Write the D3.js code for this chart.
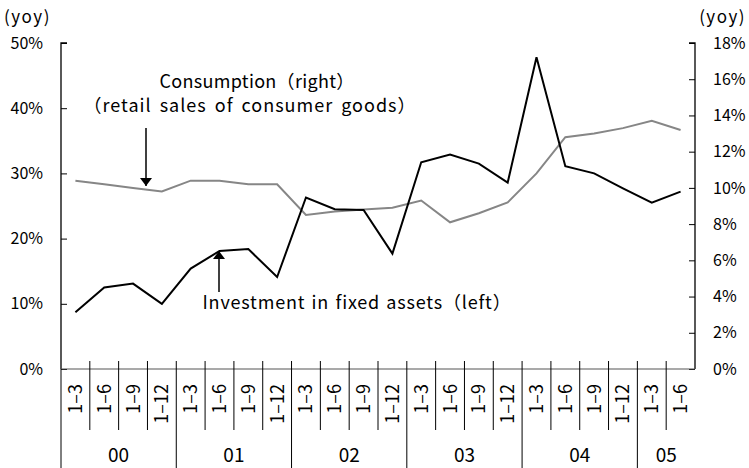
<!DOCTYPE html>
<html>
<head>
<meta charset="utf-8">
<script src="https://cdn.jsdelivr.net/npm/d3@7"></script>
<style>
  body { margin: 0; background: #fff; }
  svg text { font-family: "Noto Sans CJK JP", "Liberation Sans", sans-serif; fill: #000; }
</style>
</head>
<body>
<svg id="chart" width="749" height="468"></svg>
<script>
// quarters (cumulative periods) and years
var periods = ["1–3","1–6","1–9","1–12","1–3","1–6","1–9","1–12","1–3","1–6","1–9","1–12",
               "1–3","1–6","1–9","1–12","1–3","1–6","1–9","1–12","1–3","1–6"];
var years = ["00","01","02","03","04","05"];
var yearSpans = [4, 4, 4, 4, 4, 2];

// investment in fixed assets, % yoy (left axis)
var investment = [8.7, 12.5, 13.1, 10.0, 15.4, 18.1, 18.4, 14.1, 26.3, 24.5, 24.4, 17.7,
                  31.7, 32.9, 31.5, 28.6, 47.8, 31.1, 30.0, 27.7, 25.5, 27.2];
// retail sales of consumer goods, % yoy (right axis)
var consumption = [10.4, 10.2, 10.0, 9.8, 10.4, 10.4, 10.2, 10.2, 8.5, 8.7, 8.8, 8.9,
                   9.3, 8.1, 8.6, 9.2, 10.8, 12.8, 13.0, 13.3, 13.7, 13.2];

var leftTicks = [0, 10, 20, 30, 40, 50];
var rightTicks = [0, 2, 4, 6, 8, 10, 12, 14, 16, 18];

var margin = { top: 43, right: 54, bottom: 99, left: 61 };
var width = 749 - margin.left - margin.right;
var height = 468 - margin.top - margin.bottom;

var svg = d3.select("#chart");
var g = svg.append("g").attr("transform", `translate(${margin.left}, ${margin.top})`);

var idx = d3.range(periods.length);
var xScale = d3.scaleBand().domain(idx).range([0, width]);
var yLeft = d3.scaleLinear().domain([0, 50]).range([height, 0]);
var yRight = d3.scaleLinear().domain([0, 18]).range([height, 0]);
var bw = xScale.bandwidth();

// left axis
var leftAxis = g.append("g")
  .call(d3.axisRight(yLeft).tickValues(leftTicks).tickSize(6).tickFormat(d => d + "%"));
leftAxis.select(".domain").attr("stroke", "#000").attr("stroke-width", 1.3).attr("d", `M6,0H0V${height}`);
leftAxis.selectAll("text").attr("x", -18).attr("text-anchor", "end").style("font-size", "16px");

// right axis
var rightAxis = g.append("g")
  .attr("transform", `translate(${width}, 0)`)
  .call(d3.axisLeft(yRight).tickValues(rightTicks).tickSize(6).tickFormat(d => d + "%"));
rightAxis.select(".domain").attr("stroke", "#000").attr("stroke-width", 1.3).attr("d", `M-6,0H0V${height}`);
rightAxis.selectAll("text").attr("x", 18).attr("text-anchor", "start").style("font-size", "16px");

// unit labels
svg.append("text").attr("x", 4).attr("y", 23).style("font-size", "17px")
  .style("letter-spacing", "1.5px").text("(yoy)");
svg.append("text").attr("x", 746).attr("y", 23).attr("text-anchor", "end").style("font-size", "17px")
  .style("letter-spacing", "1.5px").text("(yoy)");

// category axis line
g.append("line").attr("x1", 0).attr("x2", width).attr("y1", height).attr("y2", height)
  .attr("stroke", "#555").attr("stroke-width", 1.2);

// period separators and labels
g.selectAll(".sep").data(idx.slice(1)).enter().append("line")
  .attr("x1", d => xScale(d)).attr("x2", d => xScale(d))
  .attr("y1", height - 8).attr("y2", height + 61)
  .attr("stroke", "#000").attr("stroke-width", 1);

g.selectAll(".plab").data(periods).enter().append("text")
  .attr("transform", (d, i) => `translate(${xScale(i) + bw / 2 + 6.5}, ${height + 15}) rotate(-90)`)
  .attr("text-anchor", "end")
  .style("font-size", "18px")
  .text(d => d);

// year separators and labels
var starts = [0];
yearSpans.forEach((s, i) => starts.push(starts[i] + s));
g.selectAll(".ysep").data(starts.slice(0, years.length)).enter().append("line")
  .attr("x1", d => xScale(d)).attr("x2", d => xScale(d))
  .attr("y1", d => d === 0 ? height : height + 61).attr("y2", 468 - margin.top)
  .attr("stroke", "#000").attr("stroke-width", 1);

g.selectAll(".ylab").data(years).enter().append("text")
  .attr("x", (d, i) => xScale(starts[i]) + yearSpans[i] * bw / 2)
  .attr("y", height + 93)
  .attr("text-anchor", "middle")
  .style("font-size", "19px")
  .text(d => d);

// lines
var lineL = d3.line().x((d, i) => xScale(i) + bw / 2).y(d => yLeft(d));
var lineR = d3.line().x((d, i) => xScale(i) + bw / 2).y(d => yRight(d));

g.append("path").attr("d", lineR(consumption))
  .attr("fill", "none").attr("stroke", "#868686").attr("stroke-width", 2);
g.append("path").attr("d", lineL(investment))
  .attr("fill", "none").attr("stroke", "#000").attr("stroke-width", 2);

// annotations
svg.append("defs").append("marker")
  .attr("id", "arrow").attr("viewBox", "0 0 8 12").attr("refX", 8).attr("refY", 6)
  .attr("markerUnits", "userSpaceOnUse")
  .attr("markerWidth", 8).attr("markerHeight", 12).attr("orient", "auto")
  .append("path").attr("d", "M0,0L8,6L0,12z").attr("fill", "#000");

svg.append("text").attr("x", 257).attr("y", 88).attr("text-anchor", "middle")
  .style("font-size", "18px").style("letter-spacing", "0.3px").text("Consumption（right）");
svg.append("text").attr("x", 250).attr("y", 112).attr("text-anchor", "middle")
  .style("font-size", "18px").style("word-spacing", "3px").style("letter-spacing", "1px")
  .text("（retail sales of consumer goods）");
svg.append("line").attr("x1", 146).attr("y1", 128).attr("x2", 146).attr("y2", 186)
  .attr("stroke", "#000").attr("stroke-width", 1.5).attr("marker-end", "url(#arrow)");

svg.append("text").attr("x", 357).attr("y", 309).attr("text-anchor", "middle")
  .style("font-size", "18px").style("word-spacing", "1.5px").style("letter-spacing", "0.8px")
  .text("Investment in fixed assets（left）");
svg.append("line").attr("x1", 219).attr("y1", 292).attr("x2", 219).attr("y2", 251)
  .attr("stroke", "#000").attr("stroke-width", 1.5).attr("marker-end", "url(#arrow)");
</script>
</body>
</html>
